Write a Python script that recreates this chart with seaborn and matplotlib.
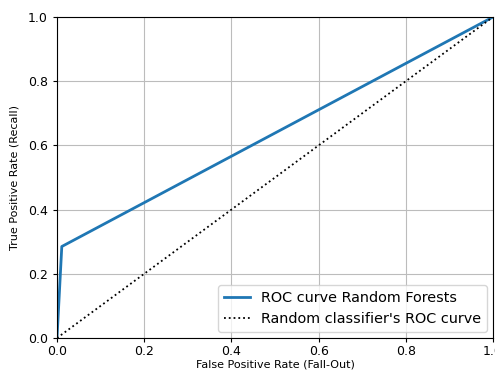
import matplotlib
matplotlib.use("Agg")
import matplotlib.pyplot as plt
import seaborn as sns
import pandas as pd

fpr = [0.0, 0.011, 1.0]
tpr = [0.0, 0.285, 1.0]
diag_x = [0.0, 1.0]
diag_y = [0.0, 1.0]
roc_label = "ROC curve Random Forests"
diag_label = "Random classifier's ROC curve"

fig = plt.figure(figsize=(4.95, 3.75), dpi=100)
ax = fig.add_axes([57/495, 37/375, 436/495, 321/375])

roc_df = pd.DataFrame({"fpr": fpr, "tpr": tpr})
diag_df = pd.DataFrame({"x": diag_x, "y": diag_y})
sns.lineplot(data=roc_df, x="fpr", y="tpr", ax=ax, linewidth=2, color="#1f77b4",
             label=roc_label, sort=False, estimator=None)
sns.lineplot(data=diag_df, x="x", y="y", ax=ax, linestyle=":", color="black",
             linewidth=1.3, label=diag_label, sort=False, estimator=None)

ax.set_xlim(0, 1)
ax.set_ylim(0, 1)
ax.grid(True, color="#bcbcbc", linewidth=0.8)
ax.set_xlabel("False Positive Rate (Fall-Out)", fontsize=8, labelpad=1)
ax.set_ylabel("True Positive Rate (Recall)", fontsize=8, labelpad=6)
ax.tick_params(labelsize=9, length=3)
ax.tick_params(axis="x", pad=2)
ax.legend(loc="lower right", fontsize=10.4, handlelength=1.8, borderaxespad=0.4)

fig.savefig("out.png", dpi=100)
